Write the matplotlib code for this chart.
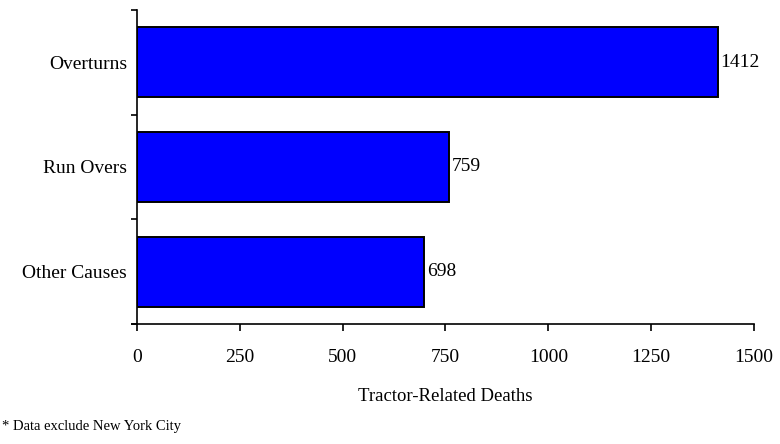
import matplotlib.pyplot as plt
from matplotlib.ticker import FixedLocator, NullFormatter

plt.rcParams['font.family'] = ['Liberation Serif', 'DejaVu Serif']

# Tractor-related deaths by cause
causes = ['Overturns', 'Run Overs', 'Other Causes']
deaths = [1412, 759, 698]
x_ticks = [0, 250, 500, 750, 1000, 1250, 1500]

fig = plt.figure(figsize=(7.8, 4.44), dpi=100)
ax = fig.add_axes([0.1756, 0.2703, 0.7911, 0.7072])

pos = list(range(len(causes)))
bars = ax.barh(pos, deaths, height=0.67, color='#0000ff',
               edgecolor='black', linewidth=1.4)

for y, v in zip(pos, deaths):
    ax.text(v + 7, y, str(v), va='center', ha='left', fontsize=14)

ax.set_ylim(len(causes) - 0.5, -0.5)
ax.set_xlim(0, 1500)

# tick marks between categories, labels at category centres
ax.yaxis.set_major_locator(FixedLocator([-0.5, 0.5, 1.5, 2.5]))
ax.yaxis.set_major_formatter(NullFormatter())
ax.set_yticks(pos, minor=True)
ax.set_yticklabels(causes, minor=True, fontsize=14)
ax.tick_params(axis='y', which='major', length=4, width=1.2, direction='out')
ax.tick_params(axis='y', which='minor', length=0, pad=7)

ax.set_xticks(x_ticks)
ax.set_xticklabels([str(t) for t in x_ticks], fontsize=14)
ax.tick_params(axis='x', length=5, width=1.2, direction='out', pad=13)

ax.set_xlabel('Tractor-Related Deaths', fontsize=13.5, labelpad=16)

for side in ['top', 'right']:
    ax.spines[side].set_visible(False)
for side in ['left', 'bottom']:
    ax.spines[side].set_linewidth(1.2)
# x axis line runs a little past zero on the left
ax.spines['bottom'].set_bounds(-12, 1500)

fig.text(0.003, 0.04, '* Data exclude New York City', fontsize=10.5,
         ha='left', va='center')

fig.savefig('out.png', dpi=100)
